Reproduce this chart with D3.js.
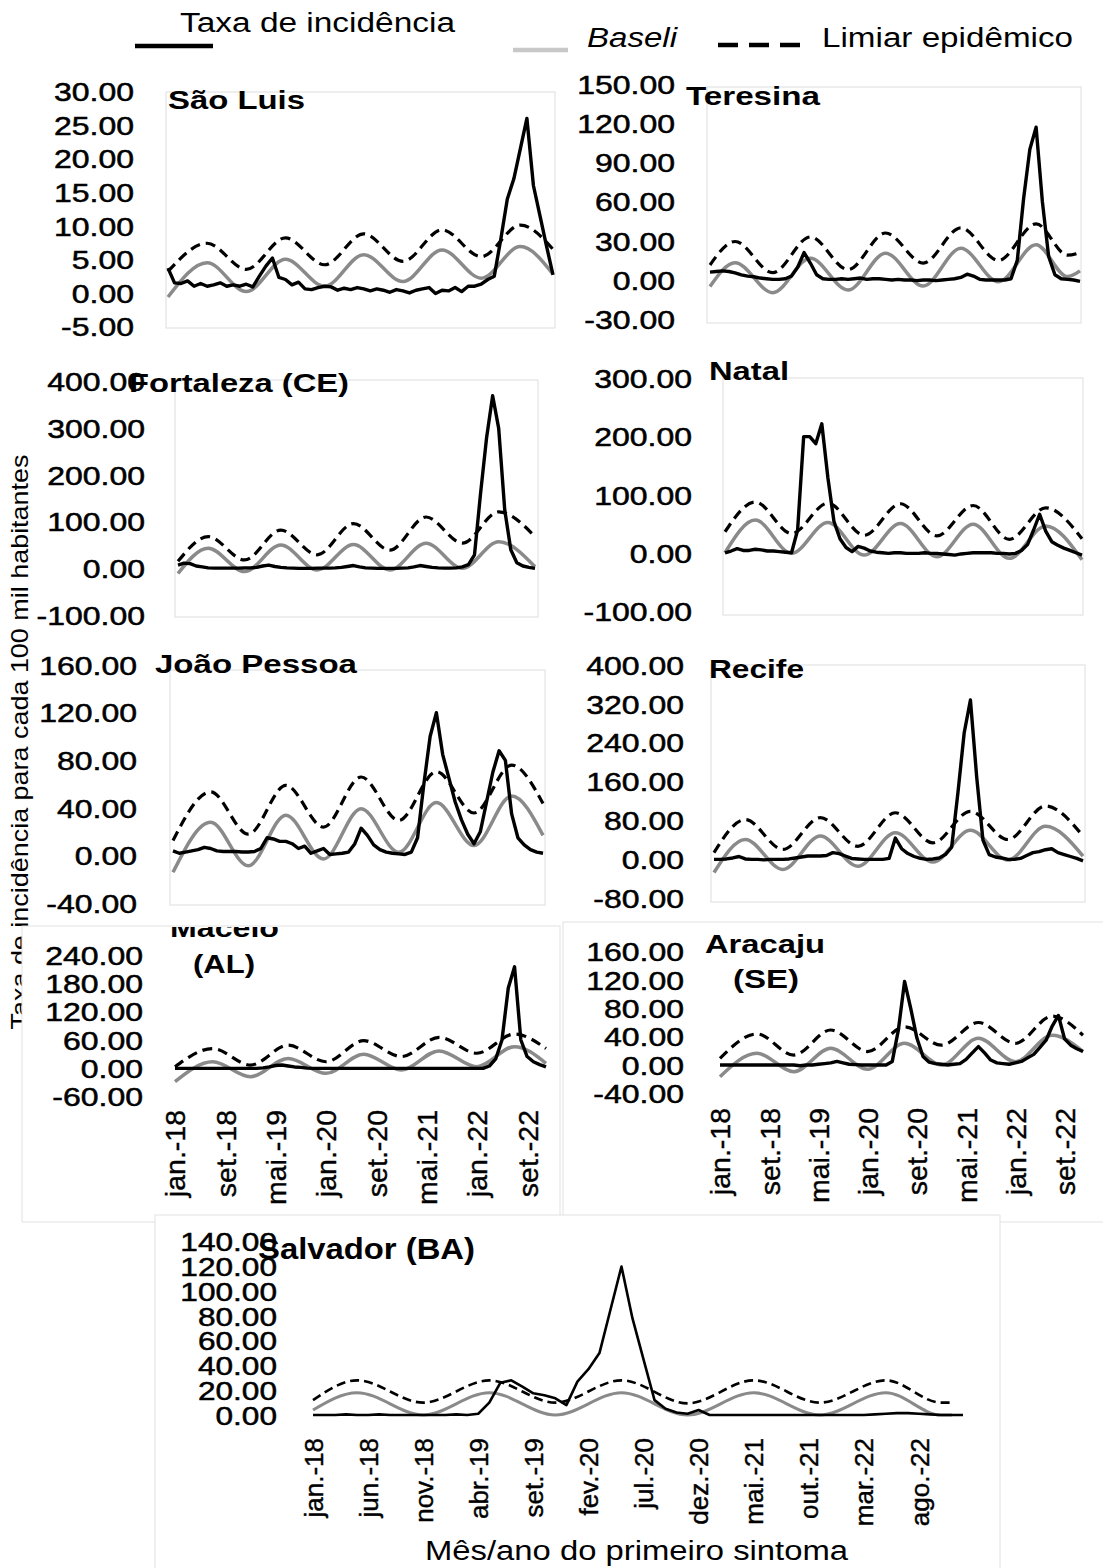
<!DOCTYPE html>
<html>
<head>
<meta charset="utf-8">
<script src="https://cdn.jsdelivr.net/npm/d3@7"></script>
<style>
  body { margin: 0; background: #fff; }
  svg { display: block; font-family: "Liberation Sans", Arial, sans-serif; }
</style>
</head>
<body>
<svg id="grafico" width="1103" height="1568"></svg>
<script>
// meses jan.-18 ... dez.-22
const abrev = ["jan.", "fev.", "mar.", "abr.", "mai.", "jun.", "jul.", "ago.", "set.", "out.", "nov.", "dez."];
const anos = ["18", "19", "20", "21", "22"];
const meses = anos.flatMap(a => abrev.map(m => m + "-" + a));

// taxa de incidencia mensal (60 meses)
const saoLuisTaxa = [3.7,1.5,1.4,1.8,1.0,1.4,1.0,1.2,1.5,1.0, 1.2,1.0,1.3,0.9,2.5,4.0,5.2,2.3,2.0,1.2, 1.6,0.6,0.5,0.8,1.0,0.9,0.4,0.7,0.5,0.8, 0.6,0.3,0.6,0.4,0.1,0.5,0.3,0.0,0.4,0.6, 0.8,-0.1,0.4,0.3,0.8,0.2,1.0,1.0,1.3,2.0, 2.5,8.0,14.0,17.0,21.5,26.0,16.0,11.5,7.0,2.7];
const teresinaTaxa = [6,6.5,7,6.5,5.5,4,3,2.5,1.5,1, 0.5,0.5,1,3,10,21,13,4,1,0.5, 0.5,1,0.5,1,1.5,0.5,1,1,0.5,0, 0.5,0,0,-0.5,0,0,-0.5,0,0.5,1, 2,4.5,3,0.5,0,0,0,0,1,15, 62,100,117,60,18,4,1,0.5,0,-1];
const fortalezaTaxa = [7,11,10,5,3,1,0.5,0.5,0.5,0.5, 0.5,1,1,2,5,7,4,2,1,0.5, 0,0,0,0.5,0.5,0.5,1,2,4,6, 3,1,0.5,0,0,0,0,0.5,1,3, 6,4,2,1,0.5,0.5,1,3,8,29, 160,280,370,300,125,40,12,5,2,0];
const natalTaxa = [1,4,8,5,5,7,6,4,4,3, 2,1,40,200,200,188,222,130,55,25, 10,3,12,9,4,2,1,0,1,1, 0,0,0,1,0,0,-1,-2,-3,-1, 0,1,1,1,1,0,0,-1,0,5, 15,40,67,38,20,14,9,5,1,-3];
const joaoPessoaTaxa = [4,2,3,4,5,7,6,4,3.5,3.5, 3.5,3,3,3.5,6,15,14,12,12,10, 6,8,2,4,6,1,1.5,2,3,10, 23,17,9,5,3,2,1.5,1,3,15, 60,100,120,85,65,45,30,18,10,20, 45,70,88,80,35,15,9,5,3,2];
const recifeTaxa = [0,0,1,3,6,1,0,0,-1,0, 0,0,1,3,5,7,7,7,8,14, 12,7,2,1,0,0,0,0,2,44, 22,12,6,2,0,1,3,10,25,137, 260,328,170,40,10,5,3,0,0,2, 8,14,16,20,22,14,10,6,2,-3];
const maceioTaxa = [0,0,0,0,0,0,0,0,0,0, 0,0,0,0,1,3,6,7,5,3, 2,0.5,0,0,0,0,0,0,0,0, 0,0,0,0,0,0,0,0,0,0, 0,0,0,0,0,0,0,0,0,0, 5,20,60,170,215,60,25,14,8,3];
const aracajuTaxa = [0,0,0,0,0,0,0,0,0,0, 0,0,0,-1,0,0,1,2,3,5, 3,1,0.5,0,0,0,0,0,5,50, 118,80,38,12,4,2,1,0,1,2, 8,17,26,17,7,3,2,1,3,5, 10,15,25,35,55,70,37,28,23,19];
const salvadorTaxa = [0,0,0,0.5,0,0,0.5,0,0,0, 0,0,0,0.5,0,1,10,26,28,23, 17.5,16,13.5,8,27,37,50,85,120,78, 45,12,5,2,1,4,0,0,0,0, 0,0,0,0,0,0,0,0,0,0, 0,0.5,1,1.5,1.5,1,0.5,0,0,0];

const saoLuisSazMeses = [0,6,12,18,24,30,36,42,48,54,59];
const saoLuisBaseline = [-0.6,4.5,0.2,5.0,1.0,5.7,1.7,6.4,2.2,6.9,2.8];
const saoLuisLimiar = [3.2,7.4,3.5,8.2,4.2,8.8,4.7,9.4,5.4,10.1,6.5];

const teresinaSazMeses = [0,4,10,16,22,28,34,40,46,52,57,59];
const teresinaBaseline = [-5,13.3,-9.7,16.7,-7.7,20.5,-4.6,24.4,-1.3,27,2.6,7];
const teresinaLimiar = [11.5,29.5,5.6,33,8,36,13,40,15,43,19,21];

const fortalezaSazMeses = [0,5,11,17,23,29,35,41,47,53,59];
const fortalezaBaseline = [-11,43,-7,50,-3.5,51,-3.5,54,0,57,3.5];
const fortalezaLimiar = [15,68,18,82,29,96,39,110,54,121,68];

const natalSazMeses = [0,5,11,17,23,29,35,41,47,53,59];
const natalBaseline = [1,57,0,53,-3,51,-6,50,-8.6,47,-11];
const natalLimiar = [37,88,34,86,31,85,30,82,24,78,25];

const joaoPessoaSazMeses = [0,6,12,18,24,30,36,42,48,54,59];
const joaoPessoaBaseline = [-14,28,-8.5,34,-2.8,39.4,2.8,44.5,8.5,50,17];
const joaoPessoaLimiar = [12.7,53.5,18,59,24,66,29.6,70.4,35.8,76,43.7];

const recifeSazMeses = [0,5,11,17,23,29,35,41,47,53,59];
const recifeBaseline = [-27,41,-20.5,48,-14,55,-5.5,60,-1.4,68,7];
const recifeLimiar = [14,82,20.5,86,27,96,34,99,41,110,48];

const maceioSazMeses = [0,6,12,18,24,30,36,42,48,54,59];
const maceioBaseline = [-28,14,-17.6,21,-10.6,30,-3.5,37,3.5,46,10.6];
const maceioLimiar = [3.5,42,7,49,14,58.6,25,65.6,32,72.7,42];

const aracajuSazMeses = [0,6,12,18,24,30,36,42,48,54,59];
const aracajuBaseline = [-16.5,16.5,-9.4,23.5,-6,30.6,0,37.6,4.7,42,19];
const aracajuLimiar = [9.4,43.8,14,49.4,19,54,28,60,30.6,69,42];

const salvadorSazMeses = [0,4,10,16,22,28,34,40,46,52,57,58];
const salvadorBaseline = [4,18,0,18,0,18,0,18,0,18,0,0];
const salvadorLimiar = [12,28,10,28,10,28,9.4,28,10,28,10,10];

// ticks do eixo y
const saoLuisTicks = [-5,0,5,10,15,20,25,30];
const teresinaTicks = [-30,0,30,60,90,120,150];
const fortalezaTicks = [-100,0,100,200,300,400];
const natalTicks = [-100,0,100,200,300];
const joaoPessoaTicks = [-40,0,40,80,120,160];
const recifeTicks = [-80,0,80,160,240,320,400];
const maceioTicks = [-60,0,60,120,180,240];
const aracajuTicks = [-40,0,40,80,120,160];
const salvadorTicks = [0,20,40,60,80,100,120,140];

// rotulos do eixo x
const rotulos8 = meses.filter((m, i) => i % 8 === 0);
const rotulos5 = meses.filter((m, i) => i % 5 === 0);

const svg = d3.select("#grafico");
svg.append("rect").attr("width", 1103).attr("height", 1568).attr("fill", "#fff");

// legenda
svg.append("text").attr("x", 180).attr("y", 32).attr("font-size", 27)
  .attr("textLength", 275).attr("lengthAdjust", "spacingAndGlyphs").text("Taxa de incidência");
svg.append("line").attr("x1", 135).attr("x2", 213).attr("y1", 46).attr("y2", 46)
  .attr("stroke", "#000").attr("stroke-width", 4.5);
svg.append("line").attr("x1", 513).attr("x2", 568).attr("y1", 50).attr("y2", 50)
  .attr("stroke", "#c8c8c8").attr("stroke-width", 4.5);
svg.append("text").attr("x", 587).attr("y", 47).attr("font-size", 27).attr("font-style", "italic")
  .attr("textLength", 90).attr("lengthAdjust", "spacingAndGlyphs").text("Baseli");
svg.append("line").attr("x1", 718).attr("x2", 800).attr("y1", 45).attr("y2", 45)
  .attr("stroke", "#000").attr("stroke-width", 4.5).attr("stroke-dasharray", "20,11");
svg.append("text").attr("x", 822).attr("y", 47).attr("font-size", 27)
  .attr("textLength", 251).attr("lengthAdjust", "spacingAndGlyphs").text("Limiar epidêmico");

// titulo do eixo y
svg.append("text").attr("transform", "translate(28,742) rotate(-90)").attr("text-anchor", "middle")
  .attr("font-size", 24).attr("textLength", 575).attr("lengthAdjust", "spacingAndGlyphs")
  .text("Taxa de incidência para cada 100 mil habitantes");

svg.append("clipPath").attr("id", "clipMaceio")
  .append("rect").attr("x", 0).attr("y", 927).attr("width", 560).attr("height", 300);

const paineis = [
  { taxa: saoLuisTaxa, saz: saoLuisSazMeses, base: saoLuisBaseline, limiar: saoLuisLimiar, ticks: saoLuisTicks,
    xr: [168, 553], yr: [326.5, 91.5], rotX: 134, moldura: [166, 92, 555, 328],
    titulos: [{ t: "São Luis", x: 168, y: 109, w: 137 }] },
  { taxa: teresinaTaxa, saz: teresinaSazMeses, base: teresinaBaseline, limiar: teresinaLimiar, ticks: teresinaTicks,
    xr: [710, 1080], yr: [319.2, 84.1], rotX: 675, moldura: [707, 87, 1081, 323],
    titulos: [{ t: "Teresina", x: 686, y: 105, w: 134 }] },
  { taxa: fortalezaTaxa, saz: fortalezaSazMeses, base: fortalezaBaseline, limiar: fortalezaLimiar, ticks: fortalezaTicks,
    xr: [178, 535], yr: [615, 381.7], rotX: 145, moldura: [175, 380, 538, 617],
    titulos: [{ t: "Fortaleza (CE)", x: 129, y: 392, w: 220 }] },
  { taxa: natalTaxa, saz: natalSazMeses, base: natalBaseline, limiar: natalLimiar, ticks: natalTicks,
    xr: [725, 1082], yr: [611.7, 378.3], rotX: 692, moldura: [723, 378, 1083, 615],
    titulos: [{ t: "Natal", x: 709, y: 380, w: 80 }] },
  { taxa: joaoPessoaTaxa, saz: joaoPessoaSazMeses, base: joaoPessoaBaseline, limiar: joaoPessoaLimiar, ticks: joaoPessoaTicks,
    xr: [173, 543], yr: [903.3, 665], rotX: 137, moldura: [170, 670, 545, 905],
    titulos: [{ t: "João Pessoa", x: 155, y: 673, w: 202 }] },
  { taxa: recifeTaxa, saz: recifeSazMeses, base: recifeBaseline, limiar: recifeLimiar, ticks: recifeTicks,
    xr: [714, 1083], yr: [898.3, 665], rotX: 684, moldura: [711, 665, 1085, 902],
    titulos: [{ t: "Recife", x: 709, y: 678, w: 95 }] },
  { taxa: maceioTaxa, saz: maceioSazMeses, base: maceioBaseline, limiar: maceioLimiar, ticks: maceioTicks,
    xr: [175, 546], yr: [1096.7, 955], rotX: 143, caixa: [22, 926, 538, 296],
    rotulos: rotulos8, rotTopo: 1110, fsX: 28.5, clip: "clipMaceio",
    titulos: [{ t: "Maceió", x: 170, y: 937, w: 109 }, { t: "(AL)", x: 193, y: 973, w: 62 }] },
  { taxa: aracajuTaxa, saz: aracajuSazMeses, base: aracajuBaseline, limiar: aracajuLimiar, ticks: aracajuTicks,
    xr: [720, 1083], yr: [1093.3, 951.7], rotX: 684, caixa: [563, 922, 545, 300],
    rotulos: rotulos8, rotTopo: 1108, fsX: 28.5,
    titulos: [{ t: "Aracaju", x: 705, y: 953, w: 120 }, { t: "(SE)", x: 733, y: 988, w: 66 }] },
  { taxa: salvadorTaxa, saz: salvadorSazMeses, base: salvadorBaseline, limiar: salvadorLimiar, ticks: salvadorTicks,
    xr: [313, 963], yr: [1415, 1241.7], rotX: 277, caixa: [155, 1215, 845, 360],
    rotulos: rotulos5, rotTopo: 1438, fsX: 26, fsY: 25.5, sx: 1.24, fsT: 29, fino: true,
    titulos: [{ t: "Salvador (BA)", x: 258, y: 1259, w: 217 }] }
];

const cinza = "#8a8a8a";

paineis.forEach(p => {
  const g = svg.append("g");
  if (p.caixa) {
    g.append("rect").attr("x", p.caixa[0]).attr("y", p.caixa[1]).attr("width", p.caixa[2]).attr("height", p.caixa[3])
      .attr("fill", "#fff").attr("stroke", "#e2e2e2").attr("stroke-width", 1);
  }
  if (p.moldura) {
    const m = p.moldura;
    g.append("rect").attr("x", m[0]).attr("y", m[1]).attr("width", m[2] - m[0]).attr("height", m[3] - m[1])
      .attr("fill", "none").attr("stroke", "#dedede").attr("stroke-width", 1);
  }

  const x = d3.scalePoint().domain(meses).range(p.xr);
  const y = d3.scaleLinear().domain([p.ticks[0], p.ticks[p.ticks.length - 1]]).range(p.yr);

  // eixo y (so rotulos)
  const ay = g.append("g").attr("transform", "translate(" + p.rotX + ",0)")
    .call(d3.axisLeft(y).tickValues(p.ticks).tickFormat(d => d.toFixed(2)).tickSize(0).tickPadding(0));
  ay.select(".domain").remove();
  ay.selectAll("text")
    .attr("font-size", p.fsY || 25.6)
    .attr("font-family", "Liberation Sans, Arial, sans-serif")
    .attr("fill", "#000")
    .attr("stroke", "#000").attr("stroke-width", 0.5)
    .attr("dy", "0.36em")
    .attr("transform", "scale(" + (p.sx || 1.25) + ",1)");

  // eixo x rotacionado
  if (p.rotulos) {
    const ax = g.append("g").attr("transform", "translate(0," + p.rotTopo + ")")
      .call(d3.axisBottom(x).tickValues(p.rotulos).tickSize(0));
    ax.select(".domain").remove();
    ax.selectAll("text")
      .attr("font-size", p.fsX)
      .attr("font-family", "Liberation Sans, Arial, sans-serif")
      .attr("fill", "#000")
      .attr("stroke", "#000").attr("stroke-width", 0.4)
      .attr("x", 0).attr("y", 0).attr("dy", "0.35em")
      .attr("transform", "rotate(-90)")
      .attr("text-anchor", "end");
  }

  const sazonal = d3.line().x(d => x(meses[d[0]])).y(d => y(d[1])).curve(d3.curveMonotoneX);
  const linha = d3.line().x((d, i) => x(meses[i])).y(d => y(d));

  g.append("path").datum(d3.zip(p.saz, p.base)).attr("d", sazonal)
    .attr("fill", "none").attr("stroke", cinza).attr("stroke-width", p.fino ? 3 : 3.5);
  g.append("path").datum(d3.zip(p.saz, p.limiar)).attr("d", sazonal)
    .attr("fill", "none").attr("stroke", "#000").attr("stroke-width", p.fino ? 2.6 : 3.2)
    .attr("stroke-dasharray", p.fino ? "9,5" : "10,6");
  g.append("path").datum(p.taxa).attr("d", linha)
    .attr("fill", "none").attr("stroke", "#000").attr("stroke-width", p.fino ? 2.6 : 3.4)
    .attr("stroke-linejoin", "round");

  const tg = g.append("g");
  if (p.clip) tg.attr("clip-path", "url(#" + p.clip + ")");
  p.titulos.forEach(t => {
    tg.append("text").attr("x", t.x).attr("y", t.y)
      .attr("font-weight", "bold").attr("font-size", p.fsT || 25)
      .attr("textLength", t.w).attr("lengthAdjust", "spacingAndGlyphs")
      .text(t.t);
  });
});

// titulo do eixo x
svg.append("text").attr("x", 425).attr("y", 1560).attr("font-size", 27)
  .attr("textLength", 423).attr("lengthAdjust", "spacingAndGlyphs")
  .text("Mês/ano do primeiro sintoma");
</script>
</body>
</html>
